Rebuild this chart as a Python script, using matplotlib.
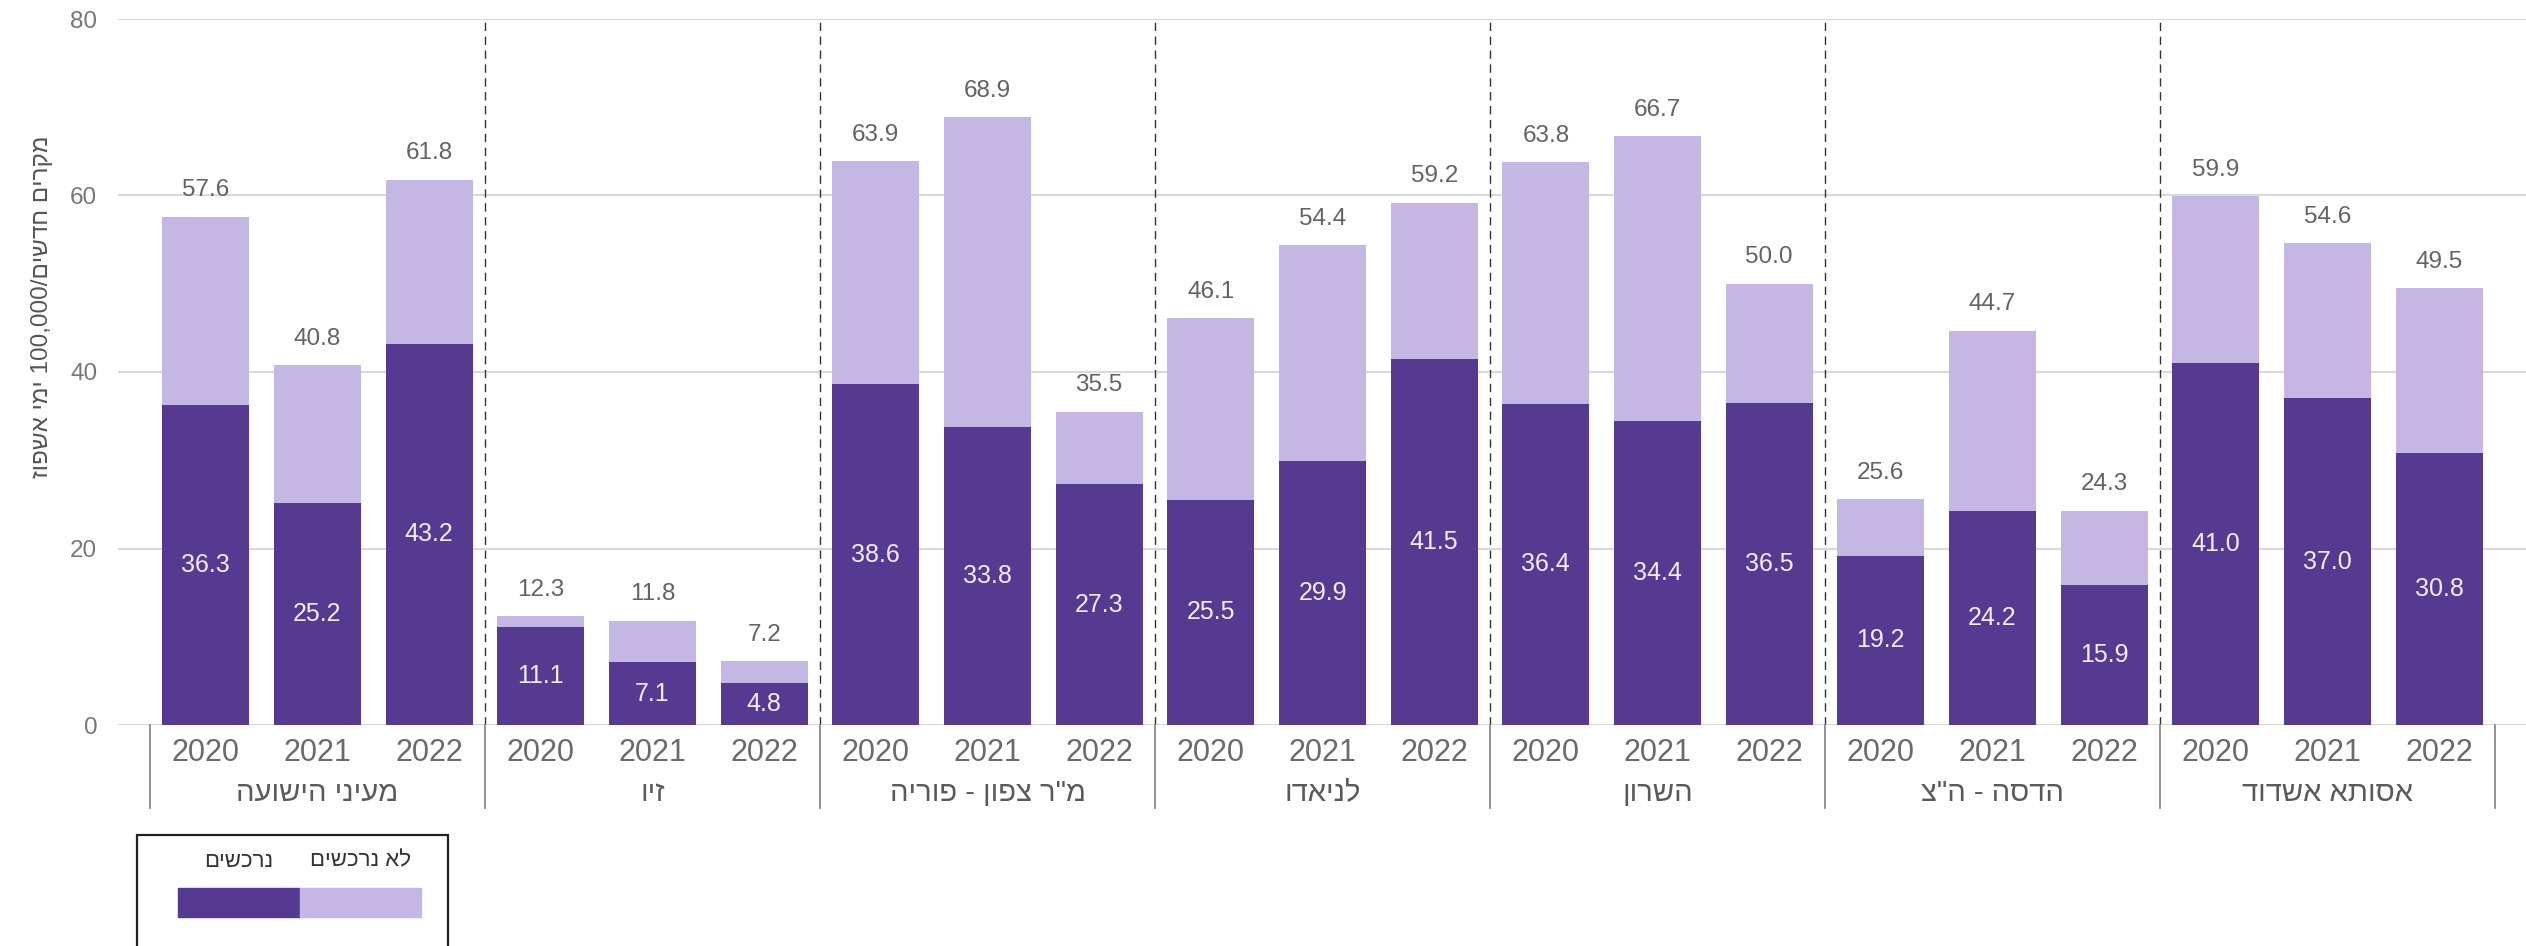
import re
import matplotlib
matplotlib.use('Agg')
import matplotlib.pyplot as plt
from matplotlib.patches import Rectangle

plt.rcParams['font.family'] = ['Liberation Sans', 'DejaVu Sans']

# ---- data ----
hospitals = ['מעיני הישועה', 'זיו', 'מ"ר צפון - פוריה', 'לניאדו',
             'השרון', 'הדסה - ה"צ', 'אסותא אשדוד']
years = ['2020', '2021', '2022']
series = ['נרכשים', 'לא נרכשים']

# נרכשים (dark segment), per hospital x year
purchased = [36.3, 25.2, 43.2,
             11.1, 7.1, 4.8,
             38.6, 33.8, 27.3,
             25.5, 29.9, 41.5,
             36.4, 34.4, 36.5,
             19.2, 24.2, 15.9,
             41.0, 37.0, 30.8]
# total per bar (label on top)
totals = [57.6, 40.8, 61.8,
          12.3, 11.8, 7.2,
          63.9, 68.9, 35.5,
          46.1, 54.4, 59.2,
          63.8, 66.7, 50.0,
          25.6, 44.7, 24.3,
          59.9, 54.6, 49.5]

ylabel = 'מקרים חדשים/100,000 ימי אשפוז'

DARK = '#563a91'
LIGHT = '#c5b7e4'


def visual(s):
    # matplotlib has no bidi: flip Hebrew, keep numbers left-to-right
    r = s[::-1]
    return re.sub(r'[\d,]+', lambda m: m.group(0)[::-1], r)


W, H = 2526, 946
fig = plt.figure(figsize=(W / 100, H / 100), dpi=100)
ax = fig.add_axes([118 / W, 221 / H, (W - 118) / W, 706 / H])

n_years = len(years)
x = list(range(len(hospitals) * n_years))
unit = 335 / 3
left = -0.5 - 32 / unit
ax.set_xlim(left, left + (W - 118) / unit)
ax.set_ylim(0, 80)

light = [t - p for t, p in zip(totals, purchased)]
ax.bar(x, purchased, width=0.78, color=DARK, zorder=3)
ax.bar(x, light, bottom=purchased, width=0.78, color=LIGHT, zorder=3)

for xi, p, t in zip(x, purchased, totals):
    ax.text(xi, p / 2, f'{p:.1f}', ha='center', va='center',
            color='#f3eefc', fontsize=18, zorder=4)
    ax.annotate(f'{t:.1f}', (xi, t), xytext=(0, 19), textcoords='offset points',
                ha='center', va='center', color='#636363', fontsize=17.5)

# grid + axes
ax.set_yticks([0, 20, 40, 60, 80])
ax.yaxis.grid(True, color='#d9d9d9', lw=1.5, zorder=0)
ax.tick_params(axis='y', length=0, pad=15, labelsize=17.5, labelcolor='#777777')
ax.set_xticks([])
for sp in ax.spines.values():
    sp.set_visible(False)

# group separators
xt = ax.get_xaxis_transform()
for g in range(len(hospitals) + 1):
    xs = g * n_years - 0.5
    if 0 < g < len(hospitals):
        ax.axvline(xs, color='#333333', lw=1.0, ls=(0, (6, 4)), zorder=2)
    ax.plot([xs, xs], [0, -0.118], transform=xt, clip_on=False,
            color='#8a8a8a', lw=1.3)

# year and hospital labels
for xi in x:
    ax.text(xi, -0.040, years[xi % n_years], transform=xt, ha='center',
            va='center', fontsize=22, color='#6a6a6a')
for g, name in enumerate(hospitals):
    ax.text(g * n_years + 1, -0.097, visual(name), transform=xt, ha='center',
            va='center', fontsize=21, color='#5a5a5a')

fig.text(42 / W, 1 - 307 / H, visual(ylabel), rotation=90, ha='center',
         va='center', fontsize=17.5, color='#555555')

# legend box (runs off the bottom edge like the source)
fig.add_artist(Rectangle((137 / W, -20 / H), 311 / W, (H - 835 + 20) / H,
                         transform=fig.transFigure, fill=False,
                         ec='#222222', lw=1.6, clip_on=False))
fig.add_artist(Rectangle((178 / W, 1 - 917 / H), 122 / W, 29 / H,
                         transform=fig.transFigure, color=DARK))
fig.add_artist(Rectangle((300 / W, 1 - 917 / H), 121 / W, 29 / H,
                         transform=fig.transFigure, color=LIGHT))
fig.text(239 / W, 1 - 861 / H, visual(series[0]), ha='center', va='center',
         fontsize=16, color='#333333')
fig.text(361 / W, 1 - 861 / H, visual(series[1]), ha='center', va='center',
         fontsize=16, color='#333333')

fig.savefig('out.png', dpi=100)
